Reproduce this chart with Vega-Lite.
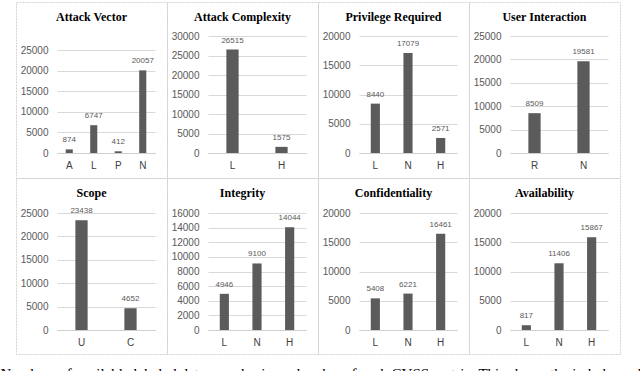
{
  "$schema": "https://vega.github.io/schema/vega-lite/v6.json",
  "padding": {"left": 0, "top": 1, "right": 0, "bottom": 0},
  "data": {"values": [
    {"metric": "Attack Vector", "value": "A", "count": 874},
    {"metric": "Attack Vector", "value": "L", "count": 6747},
    {"metric": "Attack Vector", "value": "P", "count": 412},
    {"metric": "Attack Vector", "value": "N", "count": 20057},
    {"metric": "Attack Complexity", "value": "L", "count": 26515},
    {"metric": "Attack Complexity", "value": "H", "count": 1575},
    {"metric": "Privilege Required", "value": "L", "count": 8440},
    {"metric": "Privilege Required", "value": "N", "count": 17079},
    {"metric": "Privilege Required", "value": "H", "count": 2571},
    {"metric": "User Interaction", "value": "R", "count": 8509},
    {"metric": "User Interaction", "value": "N", "count": 19581},
    {"metric": "Scope", "value": "U", "count": 23438},
    {"metric": "Scope", "value": "C", "count": 4652},
    {"metric": "Integrity", "value": "L", "count": 4946},
    {"metric": "Integrity", "value": "N", "count": 9100},
    {"metric": "Integrity", "value": "H", "count": 14044},
    {"metric": "Confidentiality", "value": "L", "count": 5408},
    {"metric": "Confidentiality", "value": "N", "count": 6221},
    {"metric": "Confidentiality", "value": "H", "count": 16461},
    {"metric": "Availability", "value": "L", "count": 817},
    {"metric": "Availability", "value": "N", "count": 11406},
    {"metric": "Availability", "value": "H", "count": 15867}
  ]},
  "title": {"text": "Numbers of available labeled data samples in each value of each CVSS metric. This shows the imbalanced", "orient": "bottom", "anchor": "start", "font": "Liberation Serif", "fontSize": 15, "fontWeight": "normal", "color": "#000000", "offset": 12, "dx": -15, "baseline": "top"},
  "columns": 4,
  "spacing": 0,
  "bounds": "flush",
  "resolve": {"scale": {"x": "independent", "y": "independent"}},
  "concat": [
      {"width": 151, "height": 176, "title": "Attack Vector",
       "transform": [{"filter": "datum.metric === 'Attack Vector'"}],
       "encoding": {
         "x": {"field": "value", "type": "nominal", "sort": null, "scale": {"range": [41, 139], "paddingInner": 0.71, "paddingOuter": 0.355}, "axis": {"offset": -25}},
         "y": {"field": "count", "type": "quantitative", "scale": {"domain": [0, 25000], "range": [151, 48], "nice": false}, "axis": {"values": [0, 5000, 10000, 15000, 20000, 25000], "offset": -41, "format": "d"}}
       },
       "layer": [{"mark": "bar"}, {"mark": {"type": "text", "baseline": "bottom", "dy": -5}, "encoding": {"text": {"field": "count", "format": "d"}}}]},
      {"width": 151, "height": 176, "title": "Attack Complexity",
       "transform": [{"filter": "datum.metric === 'Attack Complexity'"}],
       "encoding": {
         "x": {"field": "value", "type": "nominal", "sort": null, "scale": {"range": [41, 139], "paddingInner": 0.75, "paddingOuter": 0.375}, "axis": {"offset": -25}},
         "y": {"field": "count", "type": "quantitative", "scale": {"domain": [0, 30000], "range": [151, 34], "nice": false}, "axis": {"values": [0, 5000, 10000, 15000, 20000, 25000, 30000], "offset": -41, "format": "d"}}
       },
       "layer": [{"mark": "bar"}, {"mark": {"type": "text", "baseline": "bottom", "dy": -5}, "encoding": {"text": {"field": "count", "format": "d"}}}]},
      {"width": 151, "height": 176, "title": "Privilege Required",
       "transform": [{"filter": "datum.metric === 'Privilege Required'"}],
       "encoding": {
         "x": {"field": "value", "type": "nominal", "sort": null, "scale": {"range": [41, 139], "paddingInner": 0.72, "paddingOuter": 0.36}, "axis": {"offset": -25}},
         "y": {"field": "count", "type": "quantitative", "scale": {"domain": [0, 20000], "range": [151, 34], "nice": false}, "axis": {"values": [0, 5000, 10000, 15000, 20000], "offset": -41, "format": "d"}}
       },
       "layer": [{"mark": "bar"}, {"mark": {"type": "text", "baseline": "bottom", "dy": -5}, "encoding": {"text": {"field": "count", "format": "d"}}}]},
      {"width": 151, "height": 176, "title": "User Interaction",
       "transform": [{"filter": "datum.metric === 'User Interaction'"}],
       "encoding": {
         "x": {"field": "value", "type": "nominal", "sort": null, "scale": {"range": [41, 139], "paddingInner": 0.75, "paddingOuter": 0.375}, "axis": {"offset": -25}},
         "y": {"field": "count", "type": "quantitative", "scale": {"domain": [0, 25000], "range": [151, 34], "nice": false}, "axis": {"values": [0, 5000, 10000, 15000, 20000, 25000], "offset": -41, "format": "d"}}
       },
       "layer": [{"mark": "bar"}, {"mark": {"type": "text", "baseline": "bottom", "dy": -5}, "encoding": {"text": {"field": "count", "format": "d"}}}]},
      {"width": 151, "height": 176, "title": "Scope",
       "transform": [{"filter": "datum.metric === 'Scope'"}],
       "encoding": {
         "x": {"field": "value", "type": "nominal", "sort": null, "scale": {"range": [41, 139], "paddingInner": 0.75, "paddingOuter": 0.375}, "axis": {"offset": -24}},
         "y": {"field": "count", "type": "quantitative", "scale": {"domain": [0, 25000], "range": [152, 35], "nice": false}, "axis": {"values": [0, 5000, 10000, 15000, 20000, 25000], "offset": -41, "format": "d"}}
       },
       "layer": [{"mark": "bar"}, {"mark": {"type": "text", "baseline": "bottom", "dy": -5}, "encoding": {"text": {"field": "count", "format": "d"}}}]},
      {"width": 151, "height": 176, "title": "Integrity",
       "transform": [{"filter": "datum.metric === 'Integrity'"}],
       "encoding": {
         "x": {"field": "value", "type": "nominal", "sort": null, "scale": {"range": [41, 139], "paddingInner": 0.72, "paddingOuter": 0.36}, "axis": {"offset": -24}},
         "y": {"field": "count", "type": "quantitative", "scale": {"domain": [0, 16000], "range": [152, 35], "nice": false}, "axis": {"values": [0, 2000, 4000, 6000, 8000, 10000, 12000, 14000, 16000], "offset": -41, "format": "d"}}
       },
       "layer": [{"mark": "bar"}, {"mark": {"type": "text", "baseline": "bottom", "dy": -5}, "encoding": {"text": {"field": "count", "format": "d"}}}]},
      {"width": 151, "height": 176, "title": "Confidentiality",
       "transform": [{"filter": "datum.metric === 'Confidentiality'"}],
       "encoding": {
         "x": {"field": "value", "type": "nominal", "sort": null, "scale": {"range": [41, 139], "paddingInner": 0.72, "paddingOuter": 0.36}, "axis": {"offset": -24}},
         "y": {"field": "count", "type": "quantitative", "scale": {"domain": [0, 20000], "range": [152, 35], "nice": false}, "axis": {"values": [0, 5000, 10000, 15000, 20000], "offset": -41, "format": "d"}}
       },
       "layer": [{"mark": "bar"}, {"mark": {"type": "text", "baseline": "bottom", "dy": -5}, "encoding": {"text": {"field": "count", "format": "d"}}}]},
      {"width": 151, "height": 176, "title": "Availability",
       "transform": [{"filter": "datum.metric === 'Availability'"}],
       "encoding": {
         "x": {"field": "value", "type": "nominal", "sort": null, "scale": {"range": [41, 139], "paddingInner": 0.72, "paddingOuter": 0.36}, "axis": {"offset": -24}},
         "y": {"field": "count", "type": "quantitative", "scale": {"domain": [0, 20000], "range": [152, 35], "nice": false}, "axis": {"values": [0, 5000, 10000, 15000, 20000], "offset": -41, "format": "d"}}
       },
       "layer": [{"mark": "bar"}, {"mark": {"type": "text", "baseline": "bottom", "dy": -5}, "encoding": {"text": {"field": "count", "format": "d"}}}]}
  ],
  "config": {
    "view": {"stroke": "#d2d2d2", "strokeDash": [2, 1], "strokeWidth": 1},
    "axis": {"labelFont": "Liberation Sans", "labelFontSize": 10, "labelColor": "#595959", "title": null, "ticks": false, "tickSize": 0},
    "axisY": {"domain": false, "grid": true, "gridColor": "#d9d9d9", "gridWidth": 1, "labelPadding": 9},
    "axisX": {"domain": true, "domainColor": "#cfcfcf", "domainWidth": 1, "grid": false, "labelAngle": 0, "labelPadding": 7, "labelColor": "#404040"},
    "title": {"font": "Liberation Serif", "fontSize": 12, "fontWeight": "bold", "color": "#000000", "offset": -22, "anchor": "middle"},
    "bar": {"color": "#5b5b5b"},
    "text": {"font": "Liberation Sans", "fontSize": 8, "color": "#595959", "align": "center"}
  }
}
